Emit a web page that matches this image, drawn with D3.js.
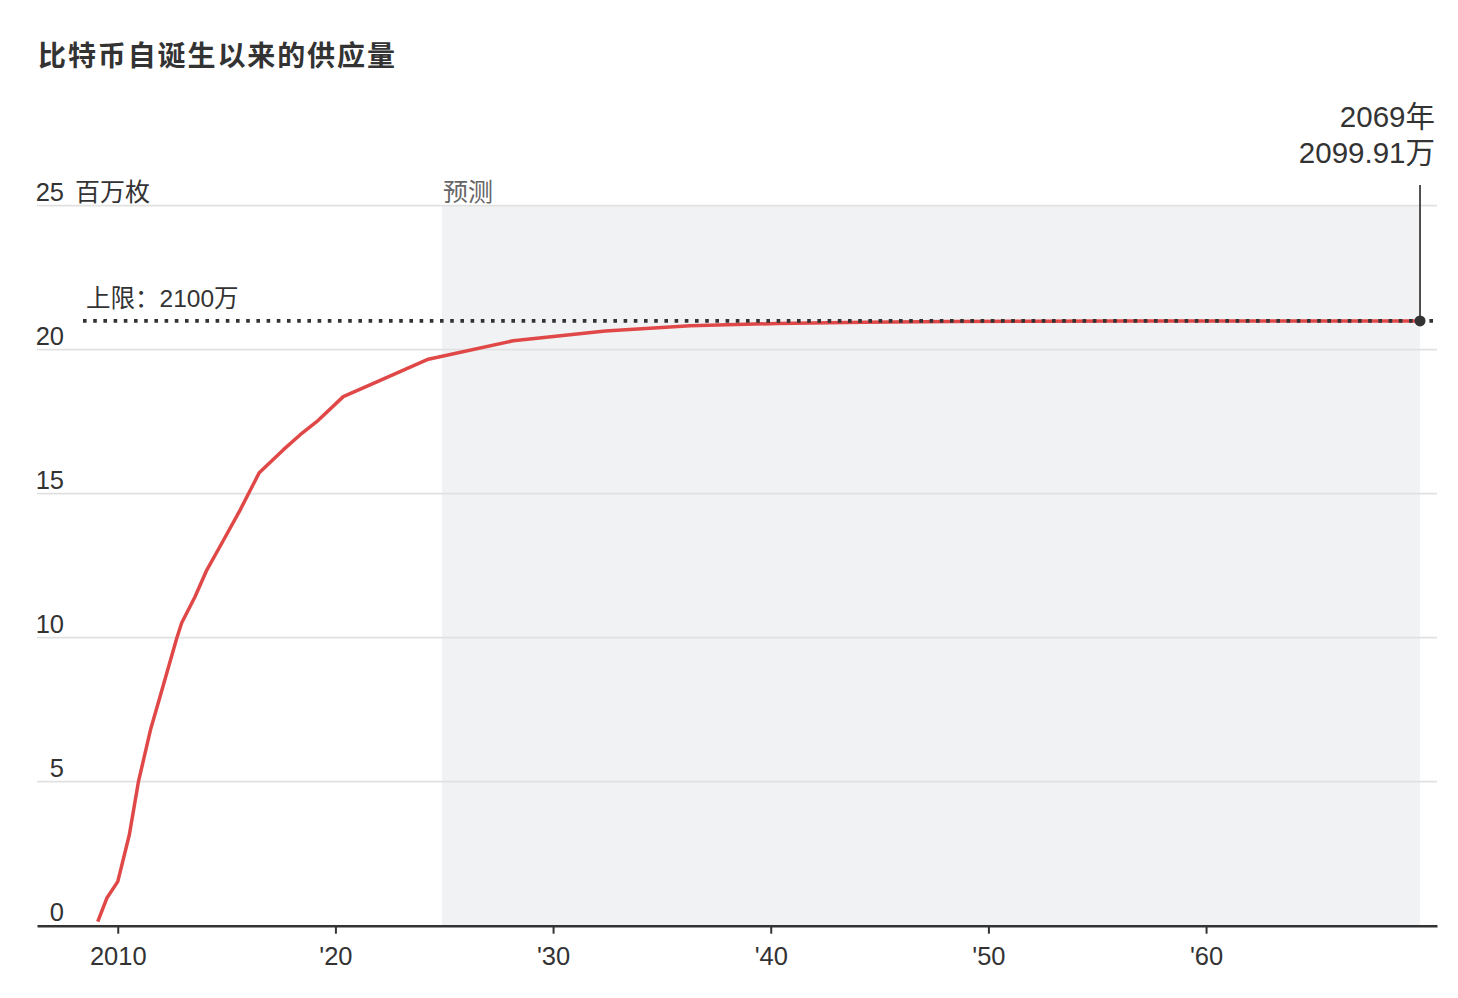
<!DOCTYPE html>
<html>
<head>
<meta charset="utf-8">
<script src="https://cdn.jsdelivr.net/npm/d3@7"></script>
<style>
  html, body { margin: 0; padding: 0; background: #fff; }
  svg { display: block; }
  text { font-family: "Liberation Sans", Arial, "Noto Sans CJK SC", sans-serif; fill: #333; }
</style>
</head>
<body>
<svg id="chart" width="1458" height="998"></svg>
<script>
// ---- Data ----
const title = "比特币自诞生以来的供应量";
const yUnit = "百万枚";
const forecastLabel = "预测";
const capLabel = "上限：2100万";
const endLabelYear = "2069年";
const endLabelValue = "2099.91万";

const years = [2009.08, 2009.5, 2010.0, 2010.53, 2010.95, 2011.52, 2011.79, 2012.71, 2012.94,
  2013.55, 2014.09, 2014.78, 2015.62, 2016.5, 2017.6, 2018.37, 2019.14, 2020.36, 2021.59,
  2024.27, 2028.17, 2032.4, 2036.3, 2040.3, 2044.3, 2048.3, 2052.3, 2056.3, 2060.3, 2064.3, 2069.83];
const supply = [0.14, 0.96, 1.53, 3.15, 5.0, 6.85, 7.55, 9.98, 10.52,
  11.42, 12.35, 13.28, 14.43, 15.73, 16.52, 17.04, 17.5, 18.37, 18.78,
  19.67, 20.31, 20.65, 20.83, 20.91, 20.955, 20.978, 20.99, 20.995, 20.997, 20.9985, 20.9991];

const xTickValues = [2010, 2020, 2030, 2040, 2050, 2060];
const xTickLabels = ["2010", "'20", "'30", "'40", "'50", "'60"];
const yTickValues = [0, 5, 10, 15, 20, 25];
const capValue = 21;
const forecastStart = 2024.9;
const forecastEnd = 2069.83;

// ---- Layout ----
const svg = d3.select("#chart");
const plotLeft = 37, plotRight = 1437, plotTop = 205.7, plotBottom = 925.7;

const x = d3.scaleLinear().domain([2006.29, 2070.61]).range([plotLeft, plotRight]);
const y = d3.scaleLinear().domain([0, 25]).range([plotBottom, plotTop]);

// Title
svg.append("text")
  .attr("x", 38).attr("y", 66)
  .style("font-family", "'Noto Sans CJK SC', sans-serif")
  .style("font-weight", "700")
  .style("font-size", "28px")
  .style("letter-spacing", "1.9px")
  .text(title);

// Forecast shading
svg.append("rect")
  .attr("x", x(forecastStart)).attr("y", y(25))
  .attr("width", x(forecastEnd) - x(forecastStart))
  .attr("height", y(0) - y(25))
  .attr("fill", "#f1f2f4");

// Gridlines
svg.append("g").selectAll("line")
  .data(yTickValues.filter(d => d > 0))
  .join("line")
  .attr("x1", plotLeft).attr("x2", plotRight)
  .attr("y1", d => y(d)).attr("y2", d => y(d))
  .attr("stroke", "#e1e1e1").attr("stroke-width", 1.8);

// Y labels
const yl = svg.append("g");
yl.selectAll("text")
  .data(yTickValues)
  .join("text")
  .attr("x", 64).attr("y", d => y(d) - 5)
  .attr("text-anchor", "end")
  .style("font-size", "25.5px")
  .text(d => d);
yl.append("text")
  .attr("x", 75).attr("y", y(25) - 5)
  .style("font-size", "25px")
  .text(yUnit);

// Forecast label
svg.append("text")
  .attr("x", x(forecastStart) + 1).attr("y", y(25) - 5)
  .style("font-size", "25px")
  .style("fill", "#666")
  .text(forecastLabel);

// X axis
const xAxis = d3.axisBottom(x)
  .tickValues(xTickValues)
  .tickFormat((d, i) => xTickLabels[i])
  .tickSize(8)
  .tickSizeOuter(0);
const gx = svg.append("g").attr("transform", `translate(0,${plotBottom})`).call(xAxis);
gx.select(".domain").attr("stroke", "#333").attr("stroke-width", 2.5);
gx.selectAll(".tick line").attr("stroke", "#333").attr("stroke-width", 2);
gx.selectAll(".tick text")
  .attr("y", 21)
  .attr("dy", "0.71em")
  .style("font-size", "25.5px")
  .style("font-family", "'Liberation Sans', Arial, sans-serif")
  .attr("fill", "#333");

// Supply line
const data = years.map((yr, i) => ({ yr, v: supply[i] }));
const line = d3.line().x(d => x(d.yr)).y(d => y(d.v));
svg.append("path")
  .datum(data)
  .attr("d", line)
  .attr("fill", "none")
  .attr("stroke", "#e04848")
  .attr("stroke-width", 3.5)
  .attr("stroke-linejoin", "round");

// Cap dotted line
svg.append("line")
  .attr("x1", 83).attr("x2", 1435)
  .attr("y1", y(capValue)).attr("y2", y(capValue))
  .attr("stroke", "#333")
  .attr("stroke-width", 3.6)
  .attr("stroke-dasharray", "3.6,6.6");
svg.append("text")
  .attr("x", 86).attr("y", y(capValue) - 14)
  .style("font-size", "24.5px")
  .text(capLabel);

// End point annotation
const last = data[data.length - 1];
const ex = x(last.yr), ey = y(last.v);
svg.append("line")
  .attr("x1", ex).attr("x2", ex)
  .attr("y1", 185).attr("y2", ey)
  .attr("stroke", "#333").attr("stroke-width", 1.7);
svg.append("circle")
  .attr("cx", ex).attr("cy", ey).attr("r", 5.5)
  .attr("fill", "#333");
svg.append("text")
  .attr("x", 1435).attr("y", 127)
  .attr("text-anchor", "end")
  .style("font-size", "29.5px")
  .text(endLabelYear);
svg.append("text")
  .attr("x", 1435).attr("y", 163)
  .attr("text-anchor", "end")
  .style("font-size", "29.5px")
  .text(endLabelValue);
</script>
</body>
</html>
